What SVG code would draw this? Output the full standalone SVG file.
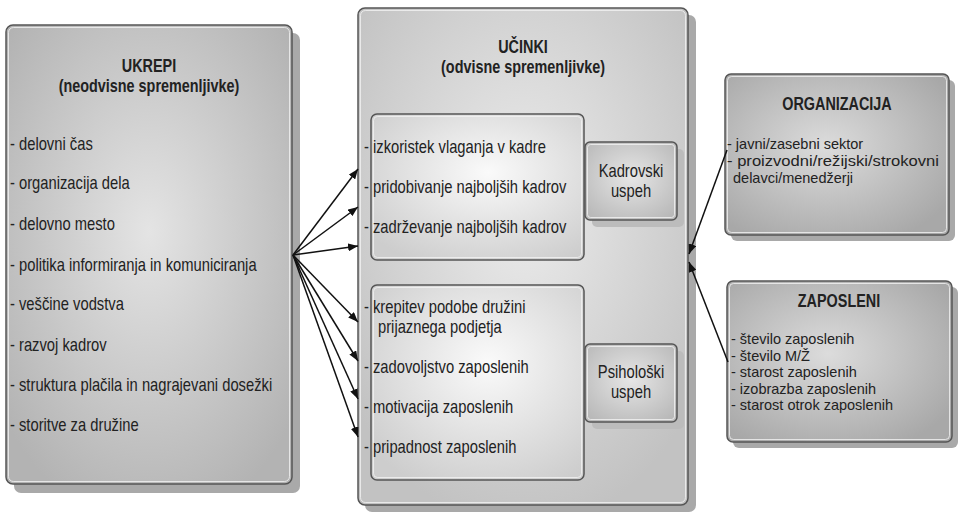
<svg xmlns="http://www.w3.org/2000/svg" width="959" height="512" viewBox="0 0 959 512">
<defs>
<radialGradient id="gBig" cx="50%" cy="45%" r="65%">
<stop offset="0" stop-color="#e4e4e4"/><stop offset="1" stop-color="#b3b3b3"/>
</radialGradient>
<radialGradient id="gMid" cx="50%" cy="40%" r="65%">
<stop offset="0" stop-color="#ececec"/><stop offset="1" stop-color="#c2c2c2"/>
</radialGradient>
<radialGradient id="gInner" cx="55%" cy="40%" r="70%">
<stop offset="0" stop-color="#fafafa"/><stop offset="1" stop-color="#cdcdcd"/>
</radialGradient>
<radialGradient id="gSmall" cx="50%" cy="45%" r="65%">
<stop offset="0" stop-color="#e6e6e6"/><stop offset="1" stop-color="#b9b9b9"/>
</radialGradient>
<radialGradient id="gRight" cx="45%" cy="45%" r="65%">
<stop offset="0" stop-color="#dcdcdc"/><stop offset="1" stop-color="#a8a8a8"/>
</radialGradient>
<marker id="arr" viewBox="0 0 10 8" refX="10" refY="4" markerWidth="10" markerHeight="8" markerUnits="userSpaceOnUse" orient="auto">
<path d="M0,0 L10,4 L0,8 Z" fill="#111"/>
</marker>
</defs>
<style>
text{font-family:"Liberation Sans",Arial,sans-serif;font-size:18px;fill:#222}
.t{font-weight:bold;text-anchor:middle}
.c{text-anchor:middle}
.r{font-size:14.5px}
.sh{fill:#a9a9a9}
.shs{fill:#bcbcbc}
.bd{stroke:#555;stroke-width:1.5}
.hl{fill:none;stroke:#f2f2f2;stroke-width:1;opacity:0.8}
.con{stroke:#111;stroke-width:1.5;fill:none;marker-end:url(#arr)}
</style>
<rect width="959" height="512" fill="#fff"/>

<g id="ukrepi">
<rect class="sh" x="14" y="33" width="286" height="460" rx="7"/>
<rect class="bd" x="6" y="25" width="286" height="459" rx="7" fill="url(#gBig)"/>
<rect class="hl" x="8.5" y="27.5" width="281" height="454" rx="5"/>
<text class="t" transform="translate(149,72) scale(0.8,1)">UKREPI</text>
<text class="t" transform="translate(149,92) scale(0.8,1)">(neodvisne spremenljivke)</text>
<text transform="translate(10,150) scale(0.82,1)">- delovni čas</text>
<text transform="translate(10,189) scale(0.82,1)">- organizacija dela</text>
<text transform="translate(10,230) scale(0.82,1)">- delovno mesto</text>
<text transform="translate(10,270.5) scale(0.82,1)">- politika informiranja in komuniciranja</text>
<text transform="translate(10,310) scale(0.82,1)">- veščine vodstva</text>
<text transform="translate(10,351) scale(0.82,1)">- razvoj kadrov</text>
<text transform="translate(10,391) scale(0.82,1)">- struktura plačila in nagrajevani dosežki</text>
<text transform="translate(10,431) scale(0.82,1)">- storitve za družine</text>
</g>

<g id="ucinki">
<rect class="sh" x="365" y="15" width="331" height="497" rx="7"/>
<rect class="bd" x="358" y="8" width="330" height="497" rx="7" fill="url(#gMid)"/>
<rect class="hl" x="360.5" y="10.5" width="325" height="492" rx="5"/>
<text class="t" transform="translate(523,53) scale(0.8,1)">UČINKI</text>
<text class="t" transform="translate(523,73) scale(0.8,1)">(odvisne spremenljivke)</text>
</g>

<g id="kadrovski-seznam">
<rect class="bd" x="371" y="114" width="213" height="146" rx="6" fill="url(#gInner)"/>
<rect class="hl" x="373.5" y="116.5" width="208" height="141" rx="4"/>
<text transform="translate(364,153) scale(0.82,1)">- izkoristek vlaganja v kadre</text>
<text transform="translate(364,193) scale(0.82,1)">- pridobivanje najboljših kadrov</text>
<text transform="translate(364,233) scale(0.82,1)">- zadrževanje najboljših kadrov</text>
</g>

<g id="kadrovski-uspeh">
<rect class="shs" x="592" y="149" width="92" height="78" rx="5"/>
<rect class="bd" x="585" y="142" width="92" height="78" rx="5" fill="url(#gSmall)"/>
<rect class="hl" x="587.5" y="144.5" width="87" height="73" rx="3"/>
<text class="c" transform="translate(631,177) scale(0.82,1)">Kadrovski</text>
<text class="c" transform="translate(631,197) scale(0.82,1)">uspeh</text>
</g>

<g id="psiholoski-seznam">
<rect class="bd" x="371" y="285" width="213" height="195" rx="6" fill="url(#gInner)"/>
<rect class="hl" x="373.5" y="287.5" width="208" height="190" rx="4"/>
<text transform="translate(364,313) scale(0.82,1)">- krepitev podobe družini</text>
<text transform="translate(378,333) scale(0.82,1)">prijaznega podjetja</text>
<text transform="translate(364,373) scale(0.82,1)">- zadovoljstvo zaposlenih</text>
<text transform="translate(364,413) scale(0.82,1)">- motivacija zaposlenih</text>
<text transform="translate(364,453) scale(0.82,1)">- pripadnost zaposlenih</text>
</g>

<g id="psiholoski-uspeh">
<rect class="shs" x="592" y="351" width="92" height="78" rx="5"/>
<rect class="bd" x="585" y="344" width="92" height="78" rx="5" fill="url(#gSmall)"/>
<rect class="hl" x="587.5" y="346.5" width="87" height="73" rx="3"/>
<text class="c" transform="translate(631,378) scale(0.82,1)">Psihološki</text>
<text class="c" transform="translate(631,398) scale(0.82,1)">uspeh</text>
</g>

<g id="organizacija">
<rect class="sh" x="731" y="80" width="224" height="161" rx="6"/>
<rect class="bd" x="725" y="74" width="224" height="161" rx="6" fill="url(#gRight)"/>
<rect class="hl" x="727.5" y="76.5" width="219" height="156" rx="4"/>
<text class="t" transform="translate(837,110) scale(0.8,1)">ORGANIZACIJA</text>
<text class="r" x="727" y="149">- javni/zasebni sektor</text>
<text class="r" x="727" y="166" textLength="212" lengthAdjust="spacingAndGlyphs">- proizvodni/režijski/strokovni</text>
<text class="r" x="733" y="182.5">delavci/menedžerji</text>
</g>

<g id="zaposleni">
<rect class="sh" x="733" y="287" width="225" height="161" rx="6"/>
<rect class="bd" x="727" y="281" width="225" height="161" rx="6" fill="url(#gRight)"/>
<rect class="hl" x="729.5" y="283.5" width="220" height="156" rx="4"/>
<text class="t" transform="translate(839,307) scale(0.8,1)">ZAPOSLENI</text>
<text class="r" x="731" y="344">- število zaposlenih</text>
<text class="r" x="731" y="360.5">- število M/Ž</text>
<text class="r" x="731" y="377">- starost zaposlenih</text>
<text class="r" x="731" y="393.5">- izobrazba zaposlenih</text>
<text class="r" x="731" y="410">- starost otrok zaposlenih</text>
</g>

<g id="connectors">
<line class="con" x1="293" y1="255" x2="358" y2="169"/>
<line class="con" x1="293" y1="255" x2="358" y2="207"/>
<line class="con" x1="293" y1="255" x2="358" y2="246"/>
<line class="con" x1="293" y1="255" x2="358" y2="322"/>
<line class="con" x1="293" y1="255" x2="358" y2="361"/>
<line class="con" x1="293" y1="255" x2="358" y2="399"/>
<line class="con" x1="293" y1="255" x2="358" y2="437"/>
<line class="con" x1="727" y1="150" x2="689" y2="254"/>
<line class="con" x1="728" y1="362" x2="689" y2="262"/>
</g>
</svg>
